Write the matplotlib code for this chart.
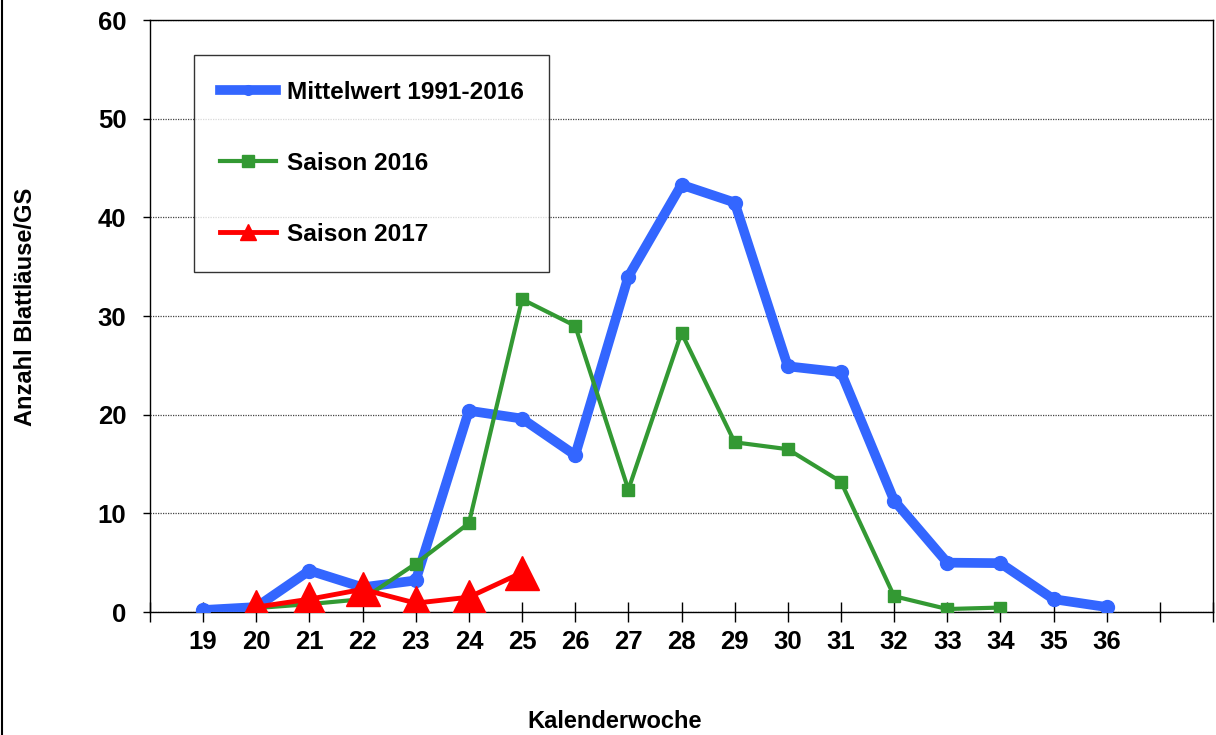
#!/usr/bin/env python3

# Blattläuse pro GS, Mittelwert vs. Saisons 2016/2017

import matplotlib
matplotlib.use("Agg")
import matplotlib.pyplot as plt
from matplotlib.lines import Line2D

plt.rcParams['font.family'] = ['Liberation Sans', 'DejaVu Sans']
plt.rcParams['font.weight'] = 'bold'

wochen_mittel = list(range(19, 37))
mittelwert = [0.2, 0.5, 4.2, 2.5, 3.2, 20.4, 19.6, 15.9, 34.0, 43.3, 41.5,
              24.9, 24.3, 11.3, 5.0, 4.95, 1.3, 0.5]

wochen_2016 = list(range(20, 35))
saison_2016 = [0.4, 0.8, 1.3, 4.9, 9.0, 31.7, 29.0, 12.4, 28.3, 17.2, 16.5,
               13.2, 1.6, 0.3, 0.45]

wochen_2017 = list(range(20, 26))
saison_2017 = [0.5, 1.3, 2.3, 0.9, 1.5, 4.0]

labels = ["Mittelwert 1991-2016", "Saison 2016", "Saison 2017"]
blau, gruen, rot = '#3366ff', '#339933', '#ff0000'

fig = plt.figure(figsize=(12.16, 7.35), dpi=100)
ax = fig.add_axes([150/1216, 123/735, 1063/1216, 592/735])

ax.plot(wochen_mittel, mittelwert, '-o', color=blau, lw=7, ms=10, zorder=3)
ax.plot(wochen_2016, saison_2016, '-s', color=gruen, lw=3, ms=9, zorder=4)
ax.plot(wochen_2017, saison_2017, '-^', color=rot, lw=3.5, ms=25, zorder=5)

ax.set_xlim(18, 38)
ax.set_ylim(0, 60)
ax.set_xticks(range(18, 39))
ax.set_xticklabels(['' if (w < 19 or w > 36) else str(w) for w in range(18, 39)])
ax.set_yticks(range(0, 61, 10))

ax.tick_params(axis='x', direction='inout', length=14, width=1, pad=6,
               labelsize=18.5)
ax.tick_params(axis='y', direction='out', length=5, width=1, pad=12,
               labelsize=18.5)
for s in ax.spines.values():
    s.set_linewidth(1)
    s.set_color('black')

ax.yaxis.grid(True, linestyle=(0, (1, 1)), color='#444444', lw=0.9)
ax.set_axisbelow(True)

ax.set_xlabel("Kalenderwoche", fontsize=17, fontweight='bold')
ax.xaxis.set_label_coords(0.4375, -0.165)
ax.set_ylabel("Anzahl Blattläuse/GS", fontsize=17, fontweight='bold')
ax.yaxis.set_label_coords(-0.106, 0.516)

handles = [
    Line2D([], [], color=blau, lw=7, marker='o', ms=7),
    Line2D([], [], color=gruen, lw=3, marker='s', ms=8),
    Line2D([], [], color=rot, lw=3.5, marker='^', ms=12),
]
leg = ax.legend(handles, labels, loc='upper left',
                bbox_to_anchor=(44/1063, 557/592), fontsize=17.6,
                frameon=True, fancybox=False, edgecolor='black',
                handlelength=2.3, handletextpad=0.45, labelspacing=1.97,
                borderpad=1.05, borderaxespad=0)
leg.get_frame().set_linewidth(1)
leg.set_zorder(6)

# Rahmen links am Bildrand
fig.add_artist(Line2D([0.0015, 0.0015], [0, 1], color='black', lw=1.5,
                      transform=fig.transFigure))

fig.savefig("out.png", dpi=100)
